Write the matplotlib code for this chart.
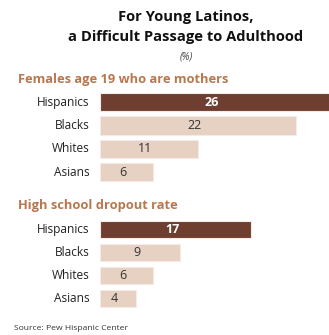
import matplotlib.pyplot as plt

# data
groups = ['Hispanics', 'Blacks', 'Whites', 'Asians']
mothers = [26, 22, 11, 6]
dropout = [17, 9, 6, 4]

title_lines = ['For Young Latinos,', 'a Difficult Passage to Adulthood']
section_titles = ['Females age 19 who are mothers', 'High school dropout rate']
source = 'Source: Pew Hispanic Center'

dark = '#6e3f31'
light = '#e6d1c3'
heading = '#b8774f'

plt.rcParams['font.family'] = ['Open Sans', 'DejaVu Sans']

W, H = 329, 335
fig = plt.figure(figsize=(W / 100, H / 100), dpi=100)


def px(x, y):
    # pixel coords (from top-left) to figure fraction
    return x / W, 1 - y / H


def draw_section(top, values, pitch):
    height = pitch * 4
    x0 = 100
    ax = fig.add_axes([x0 / W, (H - top - height) / H, (W - x0) / W, height / H])
    colors = [dark] + [light] * (len(values) - 1)
    ax.barh(range(len(values)), values, height=0.78, color=colors,
            edgecolor='#f5ebe4', linewidth=0.8)
    ax.set_xlim(0, (W - x0) / 8.9)
    ax.set_ylim(len(values) - 0.5, -0.5)
    ax.axis('off')
    for i, (g, v) in enumerate(zip(groups, values)):
        ax.text(-1.2, i, g, ha='right', va='center', fontsize=8.6, color='#222222')
        tc = 'white' if i == 0 else '#333333'
        fw = 'bold' if i == 0 else 'normal'
        ax.text(v / 2 - 0.4, i, str(v), ha='center', va='center', fontsize=9,
                color=tc, fontweight=fw)
    return ax


draw_section(90.5, mothers, 23.3)
draw_section(218, dropout, 23.0)

fig.text(*px(186, 17), title_lines[0], ha='center', va='center', fontsize=10.6,
         fontweight='bold', color='#111111')
fig.text(*px(186, 37), title_lines[1], ha='center', va='center', fontsize=10.6,
         fontweight='bold', color='#111111')
fig.text(*px(186, 57), '(%)', ha='center', va='center', fontsize=7,
         style='italic', color='#444444')
fig.text(*px(18, 80), section_titles[0], ha='left', va='center', fontsize=9.3,
         fontweight='bold', color=heading)
fig.text(*px(18, 206), section_titles[1], ha='left', va='center', fontsize=9.3,
         fontweight='bold', color=heading)
fig.text(*px(14, 328), source, ha='left', va='center', fontsize=6.1,
         color='#333333')

fig.savefig('out.png', dpi=100)
